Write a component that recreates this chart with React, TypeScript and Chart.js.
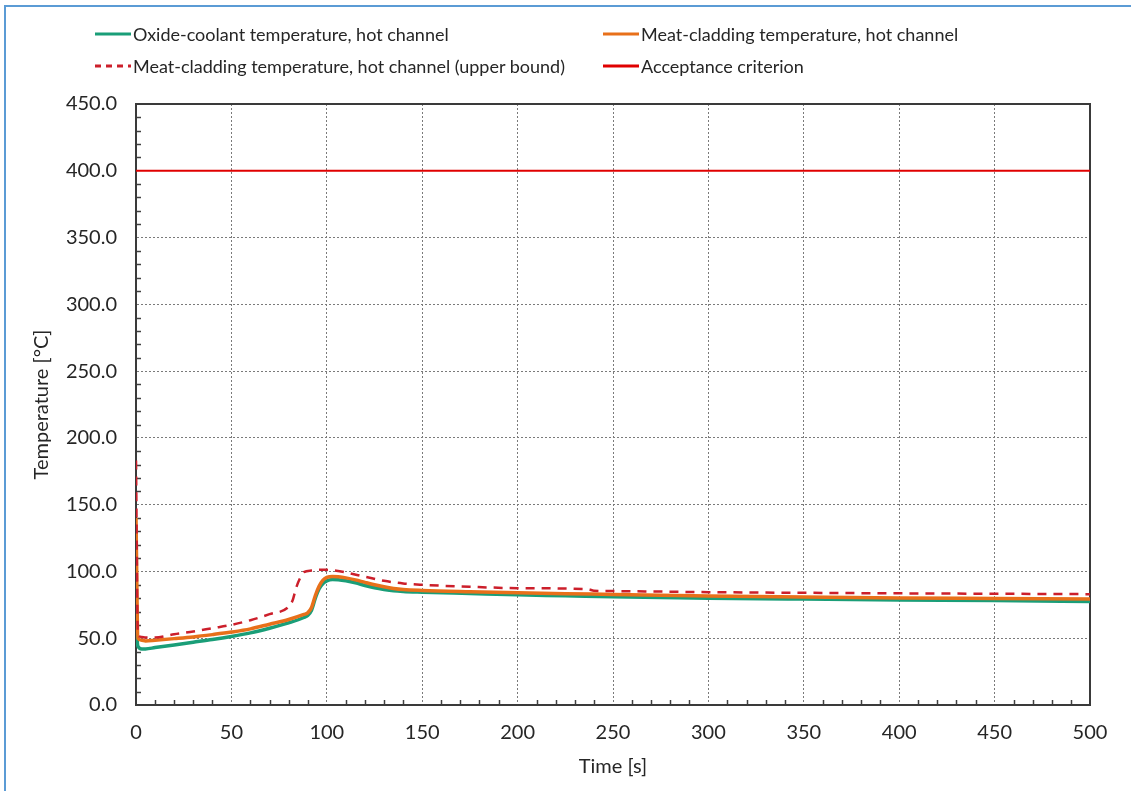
import React, { useEffect, useRef } from "react";
import { Chart, registerables } from "chart.js";

Chart.register(...registerables);

// ---- data ----
const timeHot: number[] = [0, 1, 3, 5, 10, 20, 30, 40, 50, 60, 70, 80, 88, 90, 92, 94, 96, 98, 100, 103, 106, 110, 115, 120, 125, 130, 135, 140, 150, 175, 200, 225, 250, 275, 300, 350, 400, 450, 500];
const oxideCoolant: number[] = [60, 44, 42, 42, 43, 45, 47, 49, 51.3, 54, 57.5, 61.5, 65.5, 67, 71, 80, 87, 91, 93, 94, 93.8, 93, 91.5, 89.5, 87.8, 86.5, 85.5, 85, 84.5, 83.5, 82.5, 81.8, 81, 80.5, 80, 79.3, 78.7, 78.2, 77.5];
const meatCladding: number[] = [140, 50, 48.5, 48, 48.5, 49.7, 51, 52.7, 54.6, 57, 60.5, 64, 67.8, 69, 73, 82, 89, 93.5, 95.5, 96.3, 96, 95.2, 93.7, 91.8, 90, 88.5, 87.3, 86.5, 85.8, 84.8, 84, 83.3, 82.8, 82.2, 81.6, 80.8, 80.2, 79.8, 79.4];

const timeUpper: number[] = [0, 1, 3, 5, 10, 20, 30, 40, 50, 60, 70, 80, 82, 84, 86, 88, 92, 97, 100, 105, 110, 120, 130, 140, 150, 175, 200, 237, 240, 250, 300, 350, 400, 450, 500];
const meatCladdingUpper: number[] = [183, 52, 51, 50.5, 50.5, 53, 55, 57.5, 60, 63.5, 68, 73.5, 78, 88, 95, 99.5, 100.7, 101.3, 101.2, 100.5, 99.2, 96, 93, 91, 90, 88.5, 87.5, 86.6, 85.6, 85.3, 84.5, 84, 83.6, 83.3, 83];

const timeLimit: number[] = [0, 500];
const acceptanceCriterion: number[] = [400, 400];

const seriesLabels = [
  "Oxide-coolant temperature, hot channel",
  "Meat-cladding temperature, hot channel",
  "Meat-cladding temperature, hot channel (upper bound)",
  "Acceptance criterion",
];

const GREEN = "#1a9e78";
const ORANGE = "#e8701a";
const RED_DASH = "#cc1f2b";
const RED = "#e00000";
const FONT = "Lato, 'Open Sans', sans-serif";
const TEXT = "#262626";
const GRID = "#7a7a7a";

const zip = (xs: number[], ys: number[]) => xs.map((x, i) => ({ x, y: ys[i] }));

const framePlugin = {
  id: "frameAndMinor",
  beforeDatasetsDraw(chart: any) {
    const { ctx, chartArea } = chart;
    const xs = chart.scales.x;
    const ys = chart.scales.y;
    ctx.save();
    ctx.setLineDash([]);
    ctx.strokeStyle = "#404040";
    ctx.lineWidth = 1.5;
    // minor ticks (inside) every 10
    for (let v = 10; v < 500; v += 10) {
      if (v % 50 === 0) continue;
      const px = Math.round(xs.getPixelForValue(v)) + 0.5;
      ctx.beginPath();
      ctx.moveTo(px, chartArea.bottom);
      ctx.lineTo(px, chartArea.bottom - 5);
      ctx.stroke();
    }
    for (let v = 10; v < 450; v += 10) {
      if (v % 50 === 0) continue;
      const py = Math.round(ys.getPixelForValue(v)) + 0.5;
      ctx.beginPath();
      ctx.moveTo(chartArea.left, py);
      ctx.lineTo(chartArea.left + 5, py);
      ctx.stroke();
    }
    ctx.lineWidth = 2;
    ctx.strokeStyle = "#3a3a3a";
    ctx.strokeRect(chartArea.left, chartArea.top, chartArea.right - chartArea.left, chartArea.bottom - chartArea.top);
    ctx.restore();
  },
};

function LegendItem({ label, color, dashed, left, top }: any) {
  return (
    <div style={{ position: "absolute", left, top, height: 24, display: "flex", alignItems: "center", whiteSpace: "nowrap" }}>
      <svg width={36} height={6} style={{ display: "block" }}>
        <line x1={0} y1={3} x2={36} y2={3} stroke={color} strokeWidth={3} strokeDasharray={dashed ? "6 5" : undefined} />
      </svg>
      <span style={{ marginLeft: 2, font: `18px ${FONT}`, color: TEXT }}>{label}</span>
    </div>
  );
}

export default function App() {
  const canvasRef = useRef<HTMLCanvasElement | null>(null);

  useEffect(() => {
    const canvas = canvasRef.current;
    if (!canvas) return;
    const chart = new Chart(canvas, {
      type: "line",
      data: {
        datasets: [
          {
            label: seriesLabels[0],
            data: zip(timeHot, oxideCoolant),
            borderColor: GREEN,
            borderWidth: 3.5,
            pointRadius: 0,
            cubicInterpolationMode: "monotone",
            order: 3,
          },
          {
            label: seriesLabels[1],
            data: zip(timeHot, meatCladding),
            borderColor: ORANGE,
            borderWidth: 3.5,
            pointRadius: 0,
            cubicInterpolationMode: "monotone",
            order: 2,
          },
          {
            label: seriesLabels[2],
            data: zip(timeUpper, meatCladdingUpper),
            borderColor: RED_DASH,
            borderWidth: 2.5,
            borderDash: [9, 7],
            pointRadius: 0,
            cubicInterpolationMode: "monotone",
            order: 1,
          },
          {
            label: seriesLabels[3],
            data: zip(timeLimit, acceptanceCriterion),
            borderColor: RED,
            borderWidth: 2,
            pointRadius: 0,
            order: 0,
          },
        ],
      },
      options: {
        animation: false,
        responsive: false,
        maintainAspectRatio: false,
        layout: { padding: { top: 104, right: 41, bottom: 0, left: 0 } },
        plugins: { legend: { display: false }, tooltip: { enabled: false } },
        scales: {
          x: {
            type: "linear",
            min: 0,
            max: 500,
            afterFit: (s: any) => { s.height = 86; },
            border: { display: true, color: "#3a3a3a", width: 2, dash: [2, 2] },
            grid: { color: GRID, lineWidth: 1, drawTicks: false },
            ticks: { stepSize: 50, padding: 16, color: TEXT, font: { family: FONT, size: 20 } },
            title: { display: true, text: "Time [s]", color: TEXT, font: { family: FONT, size: 20 }, padding: { top: 0, bottom: 12 } },
          },
          y: {
            type: "linear",
            min: 0,
            max: 450,
            afterFit: (s: any) => { s.width = 136; },
            border: { display: true, color: "#3a3a3a", width: 2, dash: [2, 2] },
            grid: { color: GRID, lineWidth: 1, drawTicks: false },
            ticks: {
              stepSize: 50,
              padding: 19,
              color: TEXT,
              font: { family: FONT, size: 20 },
              callback: (v: any) => Number(v).toFixed(1),
            },
            title: { display: true, text: "Temperature [°C]", color: TEXT, font: { family: FONT, size: 20 }, padding: { top: 30, bottom: 0 } },
          },
        },
      } as any,
      plugins: [framePlugin],
    });
    return () => chart.destroy();
  }, []);

  return (
    <div style={{ position: "fixed", left: 0, top: 0, width: 1131, height: 791, background: "#fff", overflow: "hidden" }}>
      <div style={{ position: "absolute", left: 4, top: 5, width: 2, height: 786, background: "#5b9bd5" }} />
      <div style={{ position: "absolute", left: 4, top: 5, width: 1127, height: 2, background: "#5b9bd5" }} />
      <canvas ref={canvasRef} width={1131} height={791} style={{ position: "absolute", left: 0, top: 0, width: 1131, height: 791 }} />
      <LegendItem label={seriesLabels[0]} color={GREEN} left={95} top={22} />
      <LegendItem label={seriesLabels[1]} color={ORANGE} left={603} top={22} />
      <LegendItem label={seriesLabels[2]} color={RED_DASH} dashed left={95} top={54} />
      <LegendItem label={seriesLabels[3]} color={RED} left={603} top={54} />
    </div>
  );
}
